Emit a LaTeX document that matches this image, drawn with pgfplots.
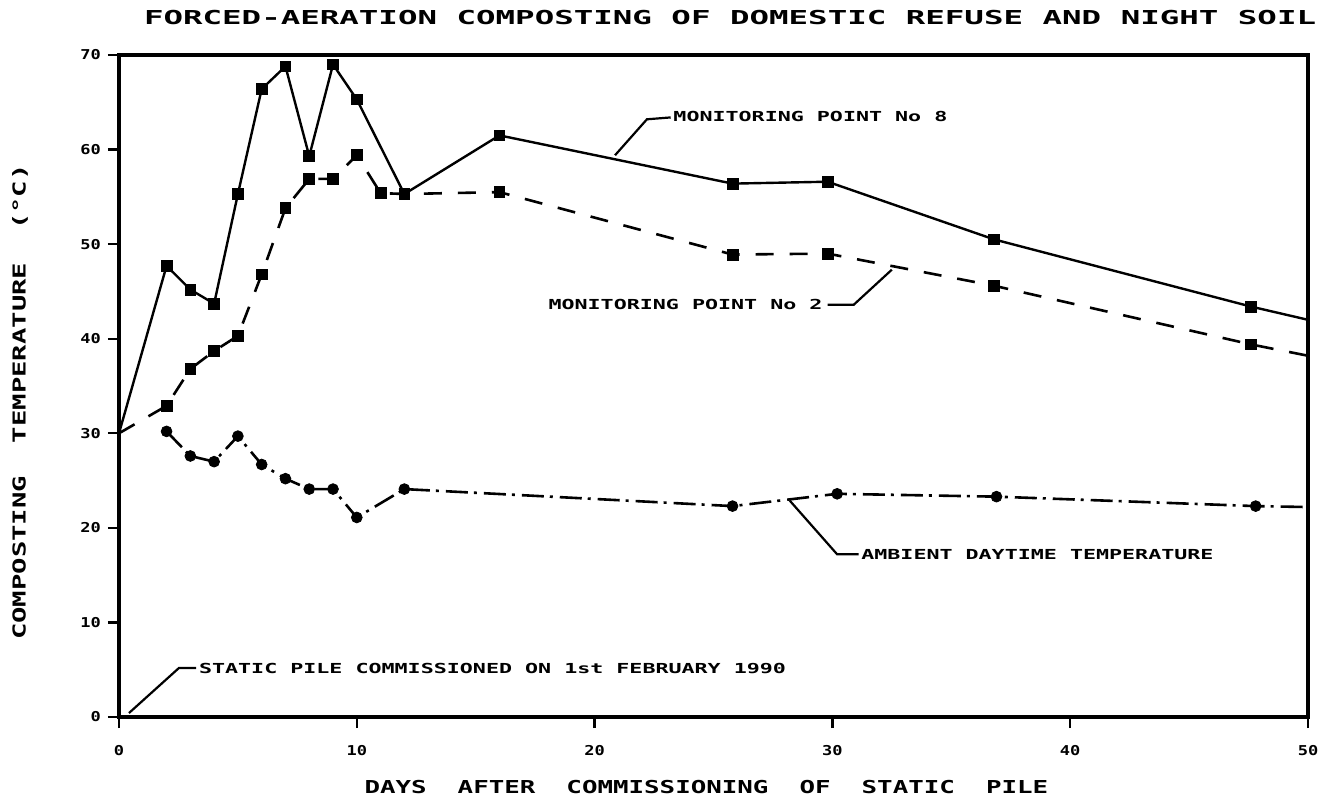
\documentclass[border=0pt]{standalone}
\usepackage{fontspec}
\usepackage{graphicx}
\usepackage{pgfplots}
\usepackage{pgfplotstable}
\pgfplotsset{compat=1.18}
\usetikzlibrary{calc}
\newfontfamily\plotter{DejaVu Sans Mono Bold}
\newcommand\ptxt[3]{\scalebox{#1}[1]{\fontsize{#2}{#2}\selectfont\plotter #3}}
\newcommand\tk[1]{\ptxt{1.25}{6.8pt}{#1}}

\pgfplotstableread{
x y
0 30
2 47.7
3 45.2
4 43.7
5 55.3
6 66.4
7 68.8
8 59.3
9 69.0
10 65.3
12 55.3
16 61.5
25.8 56.4
29.8 56.6
36.8 50.5
47.6 43.4
50 42.0
}\pointeight

\pgfplotstableread{
x y
0 30
2 32.9
3 36.8
4 38.7
5 40.3
6 46.8
7 53.8
8 56.9
9 56.9
10 59.4
11 55.4
12 55.3
16 55.5
25.8 48.9
29.8 49.0
36.8 45.6
47.6 39.4
50 38.2
}\pointtwo

\pgfplotstableread{
x y
2 30.2
3 27.6
4 27.0
5 29.7
6 26.7
7 25.2
8 24.1
9 24.1
10 21.1
12 24.1
25.8 22.3
30.2 23.6
36.9 23.3
47.8 22.3
50 22.2
}\ambient

\begin{document}
\begin{tikzpicture}
\begin{axis}[name=ax, scale only axis, width=594.5pt, height=331pt,
  xmin=0, xmax=50, ymin=0, ymax=70,
  xtick={0,10,...,50}, ytick={0,10,...,70},
  xticklabels={\tk{0},\tk{10},\tk{20},\tk{30},\tk{40},\tk{50}},
  yticklabels={\tk{0},\tk{10},\tk{20},\tk{30},\tk{40},\tk{50},\tk{60},\tk{70}},
  tick align=outside, xtick pos=left, ytick pos=left,
  major tick length=5.5pt,
  axis line style={line width=1.6pt},
  tick style={line width=1.2pt, black},
  xticklabel style={yshift=-5pt},
  clip=false]

\addplot[black, line width=1.2pt, no marks] table[x=x,y=y] {\pointeight};
\addplot[black, only marks, mark=square*, mark size=2.7pt, restrict x to domain=1:49] table[x=x,y=y] {\pointeight};

\addplot[black, line width=1.3pt, no marks, dash pattern=on 9pt off 8pt] table[x=x,y=y] {\pointtwo};
\addplot[black, only marks, mark=square*, mark size=2.7pt, restrict x to domain=1:49] table[x=x,y=y] {\pointtwo};

\addplot[black, line width=1.3pt, no marks, dash pattern=on 11pt off 3pt on 1.5pt off 3.5pt] table[x=x,y=y] {\ambient};
\addplot[black, only marks, mark=*, mark size=2.7pt, restrict x to domain=1:49] table[x=x,y=y] {\ambient};

% annotations
\draw[line width=1.1pt] (axis cs:20.86,59.4) -- (axis cs:22.2,63.2) -- (axis cs:23.2,63.4);
\node[anchor=west, inner sep=0pt] at (axis cs:23.3,63.5) {\ptxt{1.57}{6.9pt}{MONITORING POINT No 8}};

\draw[line width=1.1pt] (axis cs:29.8,43.6) -- (axis cs:30.9,43.6) -- (axis cs:32.5,47.3);
\node[anchor=east, inner sep=0pt] at (axis cs:29.6,43.6) {\ptxt{1.57}{6.9pt}{MONITORING POINT No 2}};

\draw[line width=1.1pt] (axis cs:28.2,22.9) -- (axis cs:30.2,17.2) -- (axis cs:31.1,17.2);
\node[anchor=west, inner sep=0pt] at (axis cs:31.2,17.2) {\ptxt{1.57}{6.9pt}{AMBIENT DAYTIME TEMPERATURE}};

\draw[line width=1.1pt] (axis cs:0.42,0.42) -- (axis cs:2.52,5.18) -- (axis cs:3.24,5.18);
\node[anchor=west, inner sep=0pt] at (axis cs:3.35,5.18) {\ptxt{1.57}{6.9pt}{STATIC PILE COMMISSIONED ON 1st FEBRUARY 1990}};

% title and axis labels
\node[inner sep=0pt] at (axis cs:25.7,74.0) {\ptxt{1.69}{9.6pt}{FORCED-AERATION COMPOSTING OF DOMESTIC REFUSE AND NIGHT SOIL}};
\node[inner sep=0pt] at (axis cs:24.7,-7.4) {\ptxt{1.45}{8.9pt}{DAYS~~AFTER~~COMMISSIONING~~OF~~STATIC~~PILE}};
\node[inner sep=0pt, rotate=90] at (axis cs:-4.16,33.3) {\ptxt{1.53}{8.9pt}{COMPOSTING~~TEMPERATURE~~(°C)}};
\end{axis}
\pgfresetboundingbox
\path[use as bounding box] ($(ax.south west)+(-59.5pt,-43.5pt)$) rectangle ($(ax.north east)+(10pt,27.5pt)$);
\end{tikzpicture}
\end{document}
